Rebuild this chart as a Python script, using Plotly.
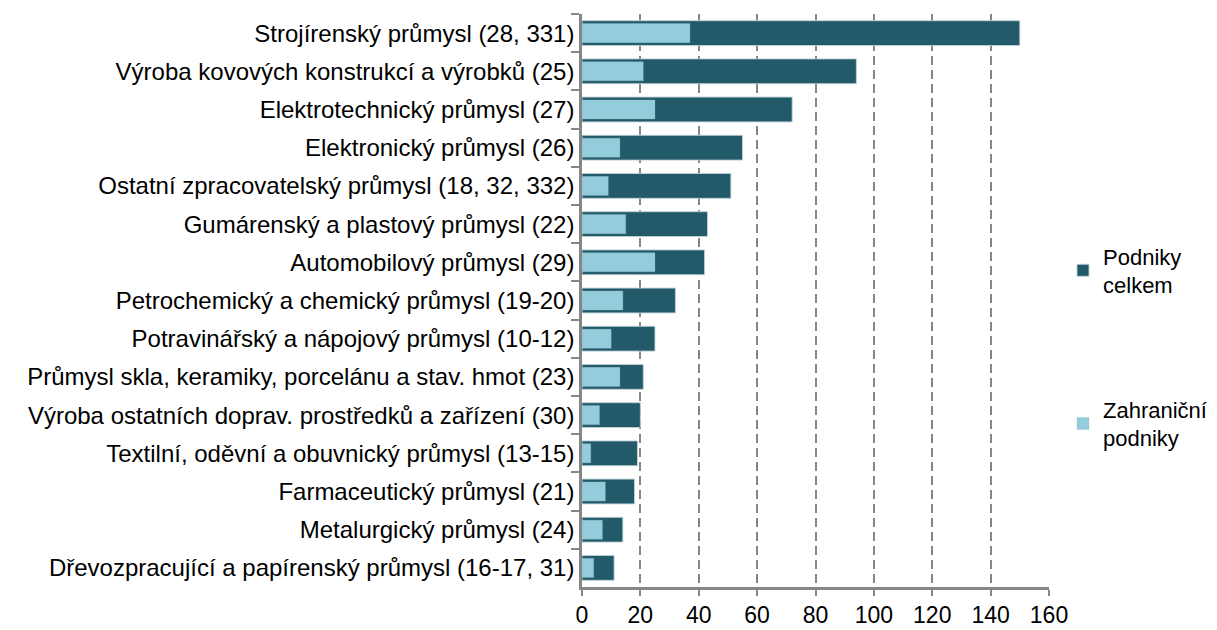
import plotly.graph_objects as go

categories = [
    "Strojírenský průmysl (28, 331)",
    "Výroba kovových konstrukcí a výrobků (25)",
    "Elektrotechnický průmysl (27)",
    "Elektronický průmysl (26)",
    "Ostatní zpracovatelský průmysl (18, 32, 332)",
    "Gumárenský a plastový průmysl (22)",
    "Automobilový průmysl (29)",
    "Petrochemický a chemický průmysl (19-20)",
    "Potravinářský a nápojový průmysl (10-12)",
    "Průmysl skla, keramiky, porcelánu a stav. hmot (23)",
    "Výroba ostatních doprav. prostředků a zařízení (30)",
    "Textilní, oděvní a obuvnický průmysl (13-15)",
    "Farmaceutický průmysl (21)",
    "Metalurgický průmysl (24)",
    "Dřevozpracující a papírenský průmysl (16-17, 31)",
]
podniky_celkem = [150, 94, 72, 55, 51, 43, 42, 32, 25, 21, 20, 19, 18, 14, 11]
zahranicni = [37, 21, 25, 13, 9, 15, 25, 14, 10, 13, 6, 3, 8, 7, 4]
x_ticks = [0, 20, 40, 60, 80, 100, 120, 140, 160]

DARK = "#235A69"
LIGHT = "#93CDDC"
GREY = "#868686"
FONT = "Liberation Sans, Arial, sans-serif"

fig = go.Figure()
fig.add_trace(go.Bar(
    y=categories, x=podniky_celkem, orientation="h",
    name="Podniky<br>celkem", legendgroup="a",
    width=0.65,
    marker=dict(color=DARK, line=dict(color="rgba(190,210,215,0.9)", width=1)),
))
fig.add_trace(go.Bar(
    y=categories, x=zahranicni, orientation="h",
    name="Zahraniční<br>podniky", legendgroup="b",
    width=0.5,
    marker=dict(color=LIGHT, line=dict(color="rgba(150,180,190,0.6)", width=0.5)),
))

# The page body has an 8px margin, so the figure is sized/offset to compensate.
fig.update_layout(
    width=1209, height=622,
    barmode="overlay",
    paper_bgcolor="white", plot_bgcolor="white",
    margin=dict(l=574, r=168, t=6, b=43, autoexpand=False),
    font=dict(family=FONT, size=22, color="#000000"),
    showlegend=True,
    legend=dict(
        x=1.03, y=0.614, xanchor="left", yanchor="top",
        traceorder="grouped", tracegroupgap=93,
        font=dict(size=22, family=FONT),
        itemwidth=30,
    ),
    xaxis=dict(
        range=[0, 160], tickvals=x_ticks, ticktext=[str(v) for v in x_ticks],
        showgrid=True, gridcolor=GREY, griddash="9px,5px", gridwidth=2,
        showline=True, linecolor=GREY, linewidth=2.5,
        ticks="outside", ticklen=6, tickcolor=GREY, tickwidth=2,
        tickfont=dict(size=23, family=FONT),
        zeroline=False, fixedrange=True,
    ),
    yaxis=dict(
        autorange="reversed", type="category",
        showline=True, linecolor=GREY, linewidth=2.5,
        ticks="outside", ticklen=8, tickcolor=GREY, tickwidth=2,
        tickson="boundaries",
        tickfont=dict(size=24, family=FONT),
        showgrid=False, zeroline=False,
    ),
)

fig.write_html("out.html")
